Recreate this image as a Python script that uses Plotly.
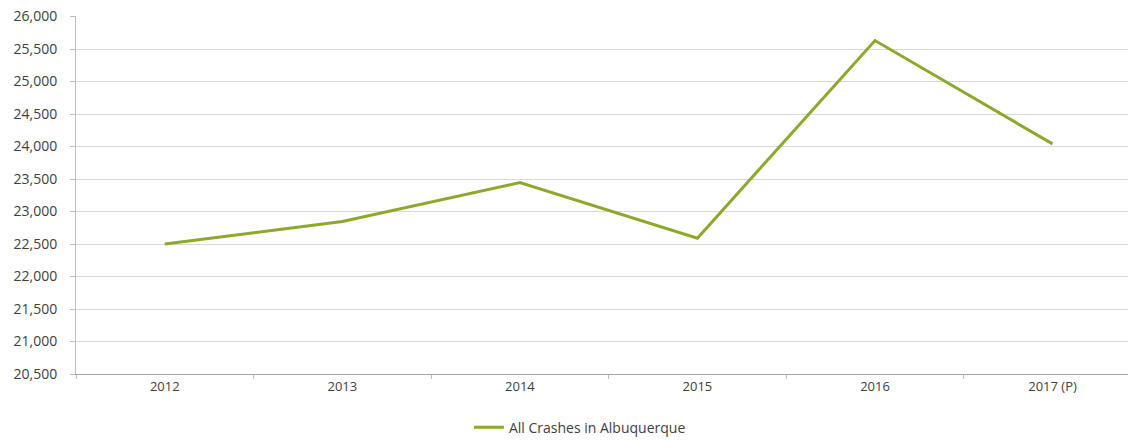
import plotly.graph_objects as go

years = ["2012", "2013", "2014", "2015", "2016", "2017 (P)"]
crashes = [22500, 22845, 23445, 22590, 25630, 24040]
y_ticks = list(range(20500, 26001, 500))
y_tick_labels = [f"{v:,}" for v in y_ticks]
series_name = "All Crashes in Albuquerque"

fig = go.Figure()
fig.add_trace(go.Scatter(
    x=years, y=crashes, mode="lines", name=series_name,
    line=dict(color="#8CA92C", width=3),
))

font_fam = "Open Sans, Liberation Sans, sans-serif"
fig.update_layout(
    width=1128, height=441,
    margin=dict(l=76, r=0, t=16, b=67, autoexpand=False),
    paper_bgcolor="white", plot_bgcolor="white",
    showlegend=True,
    legend=dict(orientation="h", x=0.479, xanchor="center",
                yref="container", y=0.03, yanchor="middle",
                font=dict(family=font_fam, size=14, color="#404040"),
                itemwidth=30),
    xaxis=dict(type="category", range=[-0.5, 5.425],
               showgrid=False, showline=True, linecolor="#a6a6a6", linewidth=1,
               ticks="outside", tickson="boundaries", ticklen=4, tickcolor="#bfbfbf",
               tickfont=dict(family=font_fam, size=13, color="#404040")),
    yaxis=dict(range=[20500, 26008], tickvals=y_ticks, ticktext=y_tick_labels,
               showgrid=True, gridcolor="#d9d9d9", gridwidth=1,
               showline=True, linecolor="#bfbfbf", linewidth=1,
               ticks="outside", ticklen=5, tickcolor="#bfbfbf",
               ticklabelstandoff=10, ticklabeloverflow="allow",
               tickfont=dict(family=font_fam, size=14, color="#404040"),
               zeroline=False),
)

# remove the browser's default 8px body margin so the figure fills the window exactly
fig.write_html("out.html",
               config={"displayModeBar": False},
               post_script="document.body.style.margin='0';document.body.style.overflow='hidden';")
